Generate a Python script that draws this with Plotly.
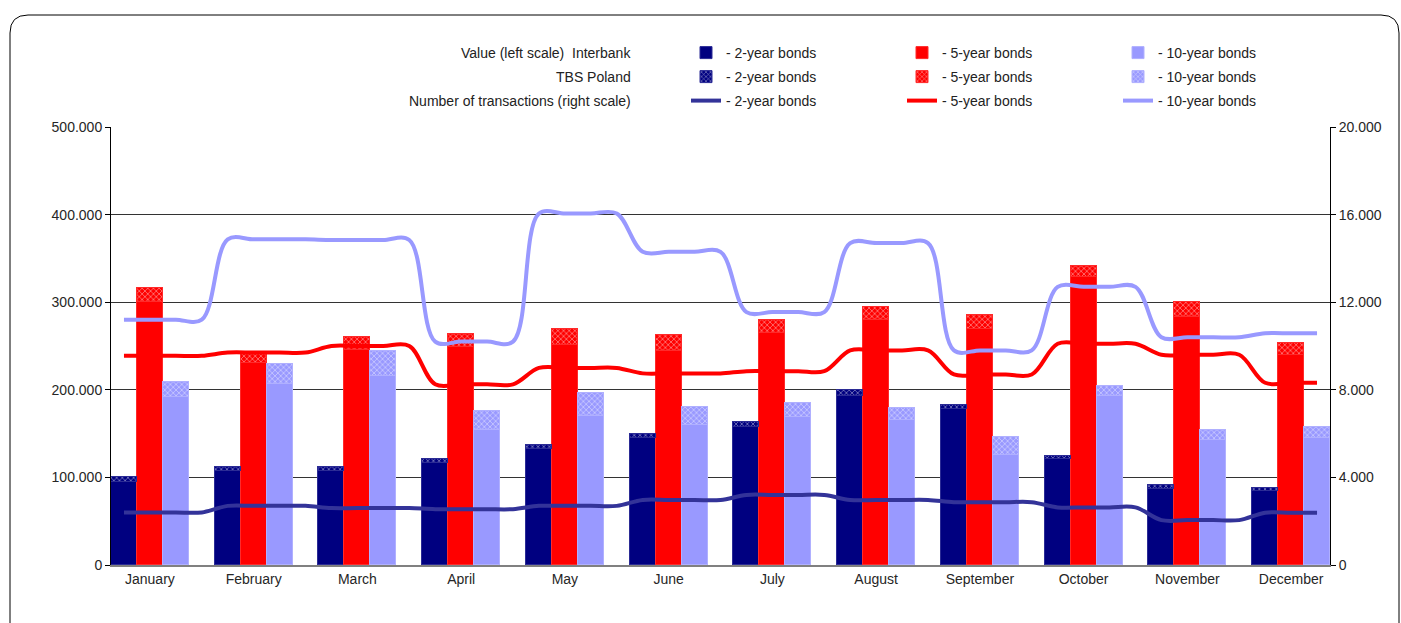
import plotly.graph_objects as go

months = ["January", "February", "March", "April", "May", "June", "July",
          "August", "September", "October", "November", "December"]

# Value (left scale) - Interbank
ib_2y = [95000, 107000, 107000, 117000, 132000, 145000, 158000, 193000, 178000, 121000, 87000, 84000]
ib_5y = [300000, 231000, 245000, 249000, 251000, 244000, 265000, 280000, 269000, 329000, 283000, 240000]
ib_10y = [192000, 207000, 216000, 154000, 170000, 160000, 169000, 166000, 126000, 193000, 143000, 145000]
# Value (left scale) - TBS Poland
tbs_2y = [5000, 5000, 5000, 4000, 5000, 5000, 5000, 7000, 5000, 4000, 4000, 4000]
tbs_5y = [16000, 10000, 15000, 15000, 18000, 18000, 15000, 15000, 16000, 12000, 17000, 14000]
tbs_10y = [17000, 22000, 28000, 22000, 26000, 20000, 16000, 13000, 20000, 11000, 11000, 13000]
# Number of transactions (right scale)
n_2y = [2400, 2700, 2600, 2550, 2700, 2970, 3200, 2970, 2870, 2630, 2050, 2390]
n_5y = [9550, 9700, 10000, 8250, 9000, 8750, 8850, 9800, 8700, 10100, 9600, 8320]
n_10y = [11200, 14870, 14840, 10200, 16050, 14300, 11550, 14700, 9800, 12700, 10400, 10580]

NAVY, RED, LAV = "#000080", "#FF0000", "#9999FF"
SLOTS = 4  # 3 bars + 1 gap per month
n_m = len(months)
pos = lambda k: [SLOTS * i + k for i in range(n_m)]
last = SLOTS * (n_m - 1) + 2

def line_xy(vals):
    xs, ys = [], []
    for i, v in enumerate(vals):
        for k in range(SLOTS):
            x = SLOTS * i + k
            if x <= last:
                xs.append(x)
                ys.append(v)
    return xs, ys

fig = go.Figure()
LEG = dict(family="Liberation Sans, Arial, sans-serif", size=14, color="#222222")

series = [(ib_2y, tbs_2y, NAVY, "#2b2b95", 0, "2"),
          (ib_5y, tbs_5y, RED, "#ff2a2a", 1, "5"),
          (ib_10y, tbs_10y, LAV, "#b0b0ff", 2, "10")]

for ib, tbs, col, lcol, k, yrs in series:
    fig.add_trace(go.Bar(x=pos(k), y=ib, name=f"- {yrs}-year bonds",
                         marker=dict(color=col, line=dict(color=lcol, width=1)),
                         legend="legend", yaxis="y"))
for ib, tbs, col, lcol, k, yrs in series:
    fig.add_trace(go.Bar(x=pos(k), y=tbs, name=f"- {yrs}-year bonds",
                         marker=dict(color=col, line=dict(color=lcol, width=1),
                                     pattern=dict(shape="x", fgcolor="white", fillmode="overlay",
                                                  size=4, solidity=0.35)),
                         legend="legend2", yaxis="y"))

for vals, col, yrs in [(n_2y, "#333399", "2"), (n_5y, RED, "5"), (n_10y, LAV, "10")]:
    xs, ys = line_xy(vals)
    fig.add_trace(go.Scatter(x=xs, y=ys, mode="lines", name=f"- {yrs}-year bonds",
                             line=dict(color=col, width=4, shape="spline", smoothing=1),
                             legend="legend3", yaxis="y2"))

W, H = 1401, 623
L, R, T, B = 111, 1330, 127, 565
px = lambda x: (x - L) / (R - L)
py = lambda y: (B - y) / (B - T)

def leg(y):
    return dict(orientation="h", x=px(686), xanchor="left", y=py(y), yanchor="middle",
                font=LEG, entrywidth=171, entrywidthmode="pixels", bgcolor="rgba(0,0,0,0)",
                itemclick=False, traceorder="normal")

AX = dict(family="Liberation Sans, Arial, sans-serif", size=14, color="#262626")

fig.update_layout(
    width=W, height=H,
    margin=dict(l=L, r=W - R, t=T, b=H - B, pad=0, autoexpand=False),
    paper_bgcolor="white", plot_bgcolor="white",
    barmode="stack", bargap=0,
    separators=",.",
    showlegend=True,
    legend=leg(53), legend2=leg(77), legend3=leg(101),
    xaxis=dict(range=[-0.5, last + 0.5], tickvals=pos(1), ticktext=months,
               showgrid=False, zeroline=False, showline=True, linecolor="#808080", linewidth=2,
               ticks="", tickfont=AX),
    yaxis=dict(range=[0, 500000], dtick=100000, tickformat=",d", showgrid=True,
               gridcolor="#333333", gridwidth=1, zeroline=False, showline=True,
               linecolor="black", linewidth=1, ticks="outside", ticklen=5, tickcolor="black",
               tickfont=AX),
    yaxis2=dict(range=[0, 20000], dtick=4000, tickformat=",d", overlaying="y", side="right",
                showgrid=False, zeroline=False, showline=True, linecolor="black", linewidth=1,
                ticks="outside", ticklen=5, tickcolor="black", tickfont=AX),
    font=AX,
)

for y, txt in [(53, "Value (left scale)\u00a0 Interbank"), (77, "TBS Poland"),
               (101, "Number of transactions (right scale)")]:
    fig.add_annotation(x=px(633), y=py(y), xref="paper", yref="paper", text=txt,
                       showarrow=False, xanchor="right", yanchor="middle", font=LEG)

# rounded outer frame
x0, x1, y0, yb = 10, 1399, 15, 640
r = 18
path = (f"M {px(x0)},{py(yb)} L {px(x0)},{py(y0 + r)} Q {px(x0)},{py(y0)} {px(x0 + r)},{py(y0)} "
        f"L {px(x1 - r)},{py(y0)} Q {px(x1)},{py(y0)} {px(x1)},{py(y0 + r)} L {px(x1)},{py(yb)}")
fig.add_shape(type="path", path=path, xref="paper", yref="paper",
              line=dict(color="black", width=1))

fig.write_html("out.html")
